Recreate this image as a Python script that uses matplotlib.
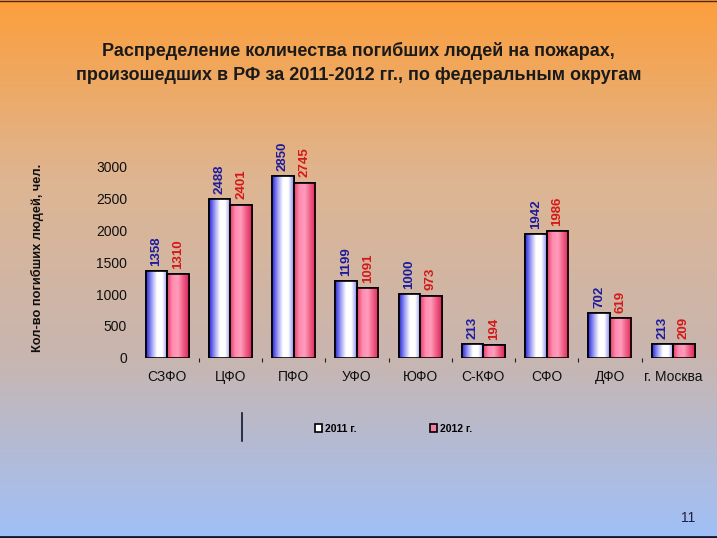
import numpy as np
import matplotlib
matplotlib.use("Agg")
import matplotlib.pyplot as plt
from matplotlib.colors import LinearSegmentedColormap

plt.rcParams['font.family'] = ['Liberation Sans', 'DejaVu Sans']

# data
districts = ['СЗФО', 'ЦФО', 'ПФО', 'УФО', 'ЮФО', 'С-КФО', 'СФО', 'ДФО', 'г. Москва']
deaths_2011 = [1358, 2488, 2850, 1199, 1000, 213, 1942, 702, 213]
deaths_2012 = [1310, 2401, 2745, 1091, 973, 194, 1986, 619, 209]
years = ['2011 г.', '2012 г.']

fig = plt.figure(figsize=(7.17, 5.38), dpi=100)

# page background: orange to light blue
bg = fig.add_axes([0, 0, 1, 1], zorder=-10)
bg_cmap = LinearSegmentedColormap.from_list('bg', ['#fc9f3c', '#deb592', '#c8b6b0', '#a0c0f8'])
bg.imshow(np.linspace(0, 1, 256).reshape(-1, 1), aspect='auto', cmap=bg_cmap,
          extent=[0, 1, 0, 1])
bg.axhline(0.002, color='#101830', lw=2)
bg.axhline(0.999, color='#502810', lw=1)
bg.set_xlim(0, 1)
bg.set_ylim(0, 1)
bg.axis('off')

fig.text(0.5, 0.905, 'Распределение количества погибших людей на пожарах,',
         ha='center', va='center', fontsize=13, fontweight='bold', color='#1a1a1a')
fig.text(0.5, 0.860, 'произошедших в РФ за 2011-2012 гг., по федеральным округам',
         ha='center', va='center', fontsize=13, fontweight='bold', color='#1a1a1a')
fig.text(0.97, 0.025, '11', ha='right', va='bottom', fontsize=10, color='#202040')

ax = fig.add_axes([0.189, 0.335, 0.794, 0.355])
ax.patch.set_alpha(0)

x = np.arange(len(districts))
w = 0.34
b1 = ax.bar(x - w / 2, deaths_2011, w, color='white', edgecolor='black', lw=1.2, label=years[0])
b2 = ax.bar(x + w / 2, deaths_2012, w, color='#f47fa0', edgecolor='black', lw=1.2, label=years[1])

blue_cm = LinearSegmentedColormap.from_list('bl', ['#2828d8', '#9a9af4', '#ffffff', '#ffffff', '#8c8cf0'])
red_cm = LinearSegmentedColormap.from_list('rd', ['#e83c6c', '#ff8cb0', '#ff9cbc', '#f05c84', '#d8285c'])
grad = np.linspace(0, 1, 64).reshape(1, -1)
for bars, cm in ((b1, blue_cm), (b2, red_cm)):
    for p in bars:
        x0, y0 = p.get_x(), p.get_y()
        im = ax.imshow(grad, cmap=cm, aspect='auto', zorder=p.get_zorder() + 0.1,
                       extent=[x0, x0 + p.get_width(), y0, y0 + p.get_height()])
        im.set_clip_path(p)
    for p in bars:
        ax.add_patch(plt.Rectangle((p.get_x(), p.get_y()), p.get_width(), p.get_height(),
                                   fill=False, edgecolor='black', lw=1.2, zorder=3))

for p, v in zip(b1, deaths_2011):
    ax.annotate(str(v), (p.get_x() + p.get_width() / 2, p.get_height()), xytext=(0, 4),
                textcoords='offset points', rotation=90, ha='center', va='bottom',
                fontsize=9.5, fontweight='bold', color='#1c1c9c')
for p, v in zip(b2, deaths_2012):
    ax.annotate(str(v), (p.get_x() + p.get_width() / 2, p.get_height()), xytext=(0, 4),
                textcoords='offset points', rotation=90, ha='center', va='bottom',
                fontsize=9.5, fontweight='bold', color='#d41818')

ax.set_xlim(-0.5, len(districts) - 0.5)
ax.set_ylim(0, 3000)
ax.set_yticks(range(0, 3001, 500))
ax.tick_params(axis='y', length=0, labelsize=10, pad=6, labelcolor='#101010')
ax.set_yticks([500, 1500], minor=True)
ax.tick_params(axis='y', which='minor', length=4, width=0.8, color='#202020', pad=10)
ax.set_xticks(x)
ax.set_xticklabels(districts)
ax.tick_params(axis='x', length=0, labelsize=10, pad=9, labelcolor='#101010')
ax.set_xticks(x[:-1] + 0.5, minor=True)
ax.tick_params(axis='x', which='minor', length=3, width=0.8, color='#202020')
for s in ax.spines.values():
    s.set_visible(False)

fig.text(0.052, 0.52, 'Кол-во погибших людей, чел.', rotation=90, ha='center', va='center',
         fontsize=9.2, fontweight='bold', color='#101010')

leg = fig.legend(handles=[b1[0], b2[0]], labels=years, loc='center',
                 bbox_to_anchor=(0.549, 0.203), ncol=2, frameon=False,
                 prop={'weight': 'bold', 'size': 7.5}, handlelength=0.7, handleheight=0.7,
                 columnspacing=7, handletextpad=0.3)
for h, c in zip(leg.legend_handles, ['white', '#f47fa0']):
    h.set_facecolor(c)
    h.set_edgecolor('black')
    h.set_linewidth(1.2)
fig.add_artist(plt.Line2D([0.338, 0.338], [0.180, 0.232], color='#101830', lw=1.2))

fig.savefig('out.png', dpi=100)
